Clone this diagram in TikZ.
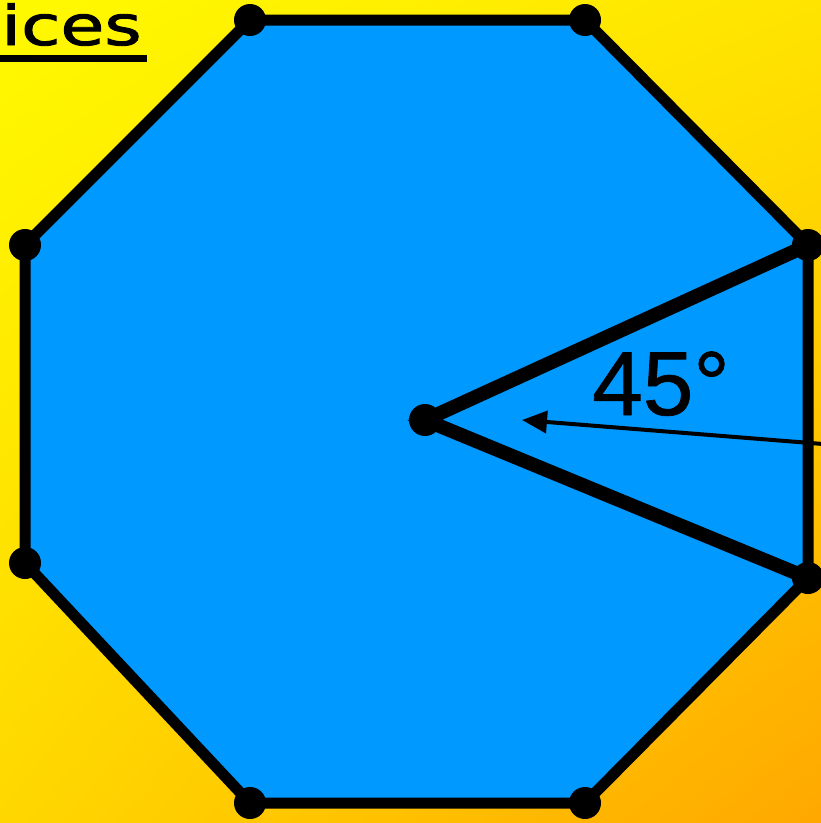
\documentclass[tikz,border=0pt]{standalone}
\usepackage{fontspec}
\setmainfont{DejaVu Sans}
\newfontfamily\headfont[FakeBold=1.6]{DejaVu Sans}
\newfontfamily\degfont[FakeBold=0.8]{Liberation Sans}
\usetikzlibrary{arrows.meta,positioning,shadings}
\definecolor{bgyellow}{RGB}{255,250,0}
\definecolor{bgmid}{RGB}{255,215,0}
\definecolor{bgtopright}{RGB}{255,228,0}
\definecolor{bgorange}{RGB}{255,168,0}
\definecolor{octblue}{RGB}{0,153,255}
\tikzset{
  edge/.style      = {line width=11pt, line join=round},
  spoke/.style     = {line width=14pt, line cap=round},
  vertex dot/.style= {circle, fill=black, inner sep=0pt, minimum size=32pt},
  pointer/.style   = {-{Triangle[length=25pt,width=22pt]}, line width=4pt},
  title/.style     = {font=\headfont\fontsize{55}{60}\selectfont, inner sep=0pt, xscale=1.3},
  anglelabel/.style= {font=\degfont\fontsize{91}{96}\selectfont, inner sep=0pt},
}

\begin{document}
\begin{tikzpicture}[x=1pt,y=-1pt]
  % ---------------- background -------------------------------------------
  \useasboundingbox (0,0) rectangle (821,823);
  \shade[upper left=bgyellow, upper right=bgtopright, lower left=bgmid,
         lower right=bgorange] (0,0) rectangle (821,823);

  % ---------------- vertices ---------------------------------------------
  \coordinate (v1) at (250,20);
  \coordinate (v2) at (585,20);
  \coordinate (v3) at (808,245);
  \coordinate (v4) at (808,578);
  \coordinate (v5) at (585,803);
  \coordinate (v6) at (250,803);
  \coordinate (v7) at (25,563);
  \coordinate (v8) at (25,245);
  \coordinate (ctr) at (425,420);

  % ---------------- octagon ----------------------------------------------
  \draw[edge,fill=octblue] (v1) -- (v2) -- (v3) -- (v4) -- (v5) -- (v6)
        -- (v7) -- (v8) -- cycle;

  % ---------------- spokes & angle ---------------------------------------
  \draw[spoke] (v3) -- (ctr) -- (v4);
  \coordinate (arrtail) at (823,444);
  \coordinate (arrtip) at (522,420);
  \draw[pointer] (arrtail) -- (arrtip);
  \node[anglelabel,anchor=base west] (ang) at (592,415) {45°};

  % ---------------- dots -------------------------------------------------
  \foreach \v in {v1,v2,v3,v4,v5,v6,v7,v8,ctr}
    \node[vertex dot] (dot-\v) at (\v) {};

  % ---------------- heading ----------------------------------------------
  \node[title,anchor=base west] (head) at (1,45) {ices};
  \draw[line width=7pt] (0,58.5) -- (147,58.5);
\end{tikzpicture}
\end{document}
